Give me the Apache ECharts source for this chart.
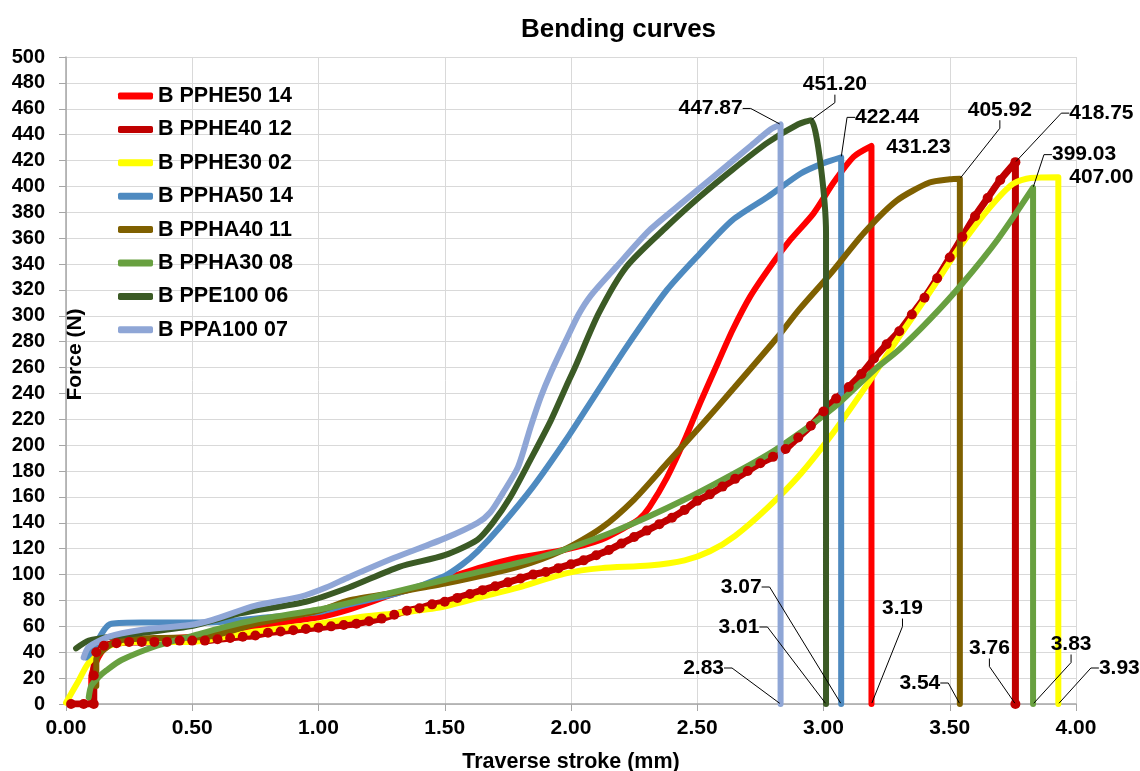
<!DOCTYPE html>
<html>
<head>
<meta charset="utf-8">
<title>Bending curves</title>
<script src="https://cdn.jsdelivr.net/npm/echarts@6/dist/echarts.min.js"></script>
<style>
  html, body { margin: 0; padding: 0; background: #ffffff; }
  #chart { width: 1140px; height: 771px; }
</style>
</head>
<body>
<div id="chart"></div>
<script>
// Force (N) against traverse stroke (mm) for each bending specimen: [stroke, force]
const pphe50_14 = [[0.02,0],[0.10,0],[0.10,20],[0.14,40],[0.20,49],[0.30,50],[0.50,52],[0.75,60],[1.00,67],[1.12,73],[1.30,85],[1.49,96],[1.65,106],[1.79,113],[1.97,119],[2.12,127],[2.22,137],[2.27,143],[2.31,152],[2.38,175],[2.45,204],[2.51,232],[2.58,263],[2.64,289],[2.71,315],[2.80,341],[2.87,359],[2.96,379],[3.04,403],[3.12,423],[3.19,431.23],[3.19,0]];

const pphe40_12 = [[0.02,0],[0.07,0],[0.11,0],[0.11,22],[0.12,40],[0.15,45],[0.20,47],[0.25,48],[0.30,48],[0.35,48],[0.40,48],[0.45,49],[0.50,49],[0.55,49],[0.60,50],[0.65,51],[0.70,52],[0.75,53],[0.80,55],[0.85,56],[0.90,57],[0.95,58],[1.00,59],[1.05,60],[1.10,61],[1.15,62],[1.20,64],[1.25,66],[1.30,69],[1.35,72],[1.40,74],[1.45,77],[1.50,79],[1.55,82],[1.60,85],[1.65,88],[1.70,91],[1.75,94],[1.80,97],[1.85,100],[1.90,102],[1.95,105],[2.00,108],[2.05,111],[2.10,115],[2.15,119],[2.20,124],[2.25,129],[2.30,134],[2.35,139],[2.40,144],[2.45,150],[2.50,157],[2.55,162],[2.60,168],[2.65,174],[2.70,180],[2.75,186],[2.80,191],[2.85,197],[2.90,206],[2.95,215],[3.00,226],[3.05,236],[3.10,245],[3.15,255],[3.20,267],[3.25,278],[3.30,288],[3.35,301],[3.40,314],[3.45,329],[3.50,345],[3.55,361],[3.60,377],[3.65,391],[3.70,405],[3.76,418.75],[3.76,0]];

const pphe30_02 = [[0.00,1],[0.05,18],[0.09,32],[0.16,44],[0.25,48],[0.49,48],[0.75,56],[1.00,62],[1.16,67],[1.30,70],[1.49,75],[1.65,83],[1.79,90],[1.98,101],[2.12,105],[2.31,107],[2.45,111],[2.55,118],[2.65,130],[2.78,152],[2.91,178],[3.04,210],[3.17,246],[3.30,284],[3.42,318],[3.55,356],[3.66,384],[3.75,402],[3.82,406.5],[3.93,407.00],[3.93,0]];

const ppha50_14 = [[0.08,36],[0.10,40],[0.15,57],[0.18,62],[0.30,63],[0.56,63],[0.80,67],[1.00,71],[1.12,77],[1.32,86],[1.50,99],[1.57,108],[1.63,118],[1.72,137],[1.85,168],[1.98,204],[2.09,237],[2.22,276],[2.38,320],[2.51,348],[2.64,374],[2.78,392],[2.91,410],[3.00,418],[3.07,422.44],[3.07,0]];

const ppha40_11 = [[0.12,14],[0.12,35],[0.15,42],[0.21,49],[0.35,51],[0.56,52],[0.75,62],[1.00,72],[1.12,80],[1.30,86],[1.50,93],[1.79,106],[1.97,119],[2.12,136],[2.25,158],[2.38,186],[2.51,214],[2.64,243],[2.82,284],[2.90,304],[3.03,333],[3.16,364],[3.29,389],[3.42,403],[3.50,405.5],[3.54,405.92],[3.54,0]];

const ppha30_08 = [[0.09,5],[0.10,14],[0.13,21],[0.16,26],[0.22,34],[0.36,45],[0.49,52],[0.62,59],[0.75,65],[1.00,73],[1.16,80],[1.50,96],[1.79,109],[1.97,119],[2.18,134],[2.45,158],[2.71,185],[2.83,199],[3.04,229],[3.20,258],[3.30,274],[3.42,297],[3.55,325],[3.69,359],[3.83,399.03],[3.83,0]];

const ppe100_06 = [[0.04,43],[0.09,49],[0.22,53],[0.49,60],[0.69,70],[0.95,79],[1.12,90],[1.32,106],[1.50,115],[1.63,127],[1.69,140],[1.76,160],[1.84,189],[1.92,219],[1.98,245],[2.02,262],[2.11,302],[2.22,338],[2.38,369],[2.51,392],[2.64,413],[2.78,434],[2.90,448],[2.95,451.20],[3.01,364],[3.01,0]];

const ppa100_07 = [[0.07,36],[0.09,44],[0.17,52],[0.29,57],[0.49,61],[0.58,65],[0.75,76],[0.93,83],[1.03,90],[1.12,98],[1.30,113],[1.50,128],[1.63,140],[1.68,148],[1.73,163],[1.79,183],[1.84,214],[1.88,237],[1.92,256],[1.98,281],[2.03,301],[2.08,316],[2.18,338],[2.31,366],[2.45,389],[2.58,410],[2.71,431],[2.79,444],[2.83,447.87],[2.83,0]];

const seriesNames = ['B PPHE50 14','B PPHE40 12','B PPHE30 02','B PPHA50 14','B PPHA40 11','B PPHA30 08','B PPE100 06','B PPA100 07'];
const seriesData = [pphe50_14, pphe40_12, pphe30_02, ppha50_14, ppha40_11, ppha30_08, ppe100_06, ppa100_07];
const seriesColors = ['#FF0000','#C00000','#FFFF00','#4E8AC0','#7F6000','#68A040','#3B5A25','#8FA6D6'];

const xTicks = { min: 0, max: 4, step: 0.5 };
const yTicks = { min: 0, max: 500, step: 20 };

// Where each peak / failure-stroke label sits, relative to its point (px)
const peakLabelShift = [[47,1],[86,-49],[43,0],[46,-40],[40,-69],[51,-33],[24,-36],[-70,-16]];
const peakLabelLine  = [false,true,false,true,true,true,true,true];
const breakLabelShift = [[31,-96],[-26,-56],[61,-36],[-100,-117],[-40,-21],[38,-60],[-87,-77],[-77,-36]];

const FONT = "'Liberation Sans', Arial, sans-serif";

const peakItems = seriesData.map((d, i) => {
  let peak = d[0];
  d.forEach(p => { if (p[1] >= peak[1]) peak = p; });
  return { value: peak, labelLine: { show: peakLabelLine[i] } };
});
const breakItems = seriesData.map(d => ({ value: d[d.length - 1] }));

const lineSeries = seriesNames.map((name, i) => {
  const marked = name === 'B PPHE40 12';
  return {
    name: name,
    type: 'line',
    data: seriesData[i],
    color: seriesColors[i],
    smooth: 0.25,
    symbol: marked ? 'circle' : 'none',
    symbolSize: marked ? 10 : 0,
    showSymbol: marked,
    lineStyle: { width: marked ? 7 : 6, color: seriesColors[i], cap: 'round', join: 'round' },
    itemStyle: { color: seriesColors[i], opacity: 1 },
    silent: true,
    emphasis: { disabled: true },
    z: 2
  };
});

const labelText = { color: '#000', opacity: 1, fontFamily: FONT, fontWeight: 'bold', fontSize: 21,
  textBorderWidth: 0, textBorderColor: 'transparent' };
const guide = { show: true, length2: 8, lineStyle: { color: '#000', width: 1, opacity: 1 } };

const annotationSeries = ['peaks', 'breaks'].map(kind => ({
  name: kind,
  type: 'scatter',
  data: kind === 'peaks' ? peakItems : breakItems,
  symbolSize: 2,
  itemStyle: { color: 'rgba(0,0,0,0)', opacity: 1 },
  silent: true,
  z: 5,
  label: Object.assign({ show: true, position: 'inside',
    formatter: p => (kind === 'peaks' ? p.value[1] : p.value[0]).toFixed(2) }, labelText),
  labelLine: guide,
  labelLayout: p => {
    const s = (kind === 'peaks' ? peakLabelShift : breakLabelShift)[p.dataIndex];
    return { dx: s[0], dy: s[1] };
  }
}));

const chart = echarts.init(document.getElementById('chart'), null, { renderer: 'canvas' });
chart.setOption({
  animation: false,
  backgroundColor: '#ffffff',
  textStyle: { fontFamily: FONT },
  title: {
    text: 'Bending curves',
    left: 516,
    top: 12,
    textStyle: { fontFamily: FONT, fontWeight: 'bold', fontSize: 26, color: '#000' }
  },
  grid: { left: 66, top: 57, width: 1010, height: 647, containLabel: false, outerBoundsMode: 'none' },
  legend: {
    data: seriesNames,
    orient: 'vertical',
    left: 113,
    top: 80,
    itemGap: 11.4,
    icon: 'roundRect',
    itemWidth: 35,
    itemHeight: 7,
    textStyle: { fontFamily: FONT, fontWeight: 'bold', fontSize: 21.5, color: '#000' },
    selectedMode: false
  },
  xAxis: {
    type: 'value',
    min: xTicks.min,
    max: xTicks.max,
    interval: xTicks.step,
    name: 'Traverse stroke (mm)',
    nameLocation: 'middle',
    nameGap: 47,
    nameTextStyle: { fontFamily: FONT, fontWeight: 'bold', fontSize: 21.5, color: '#000' },
    axisLine: { lineStyle: { color: '#A6A6A6', width: 1.5 } },
    axisTick: { show: true, length: 7, lineStyle: { color: '#A6A6A6' } },
    axisLabel: { margin: 14, fontFamily: FONT, fontWeight: 'bold', fontSize: 21, color: '#000',
      formatter: v => v.toFixed(2) },
    splitLine: { show: true, lineStyle: { color: '#D9D9D9', width: 1 } }
  },
  yAxis: {
    type: 'value',
    min: yTicks.min,
    max: yTicks.max,
    interval: yTicks.step,
    name: 'Force (N)',
    nameLocation: 'middle',
    nameRotate: 90,
    nameGap: -20,
    nameMoveOverlap: false,
    nameTextStyle: { fontFamily: FONT, fontWeight: 'bold', fontSize: 21, color: '#000', padding: [0, 0, 0, 52] },
    axisLine: { show: true, lineStyle: { color: '#A6A6A6', width: 1.5 } },
    axisTick: { show: true, length: 7, lineStyle: { color: '#A6A6A6' } },
    axisLabel: { margin: 21, fontFamily: FONT, fontWeight: 'bold', fontSize: 20, color: '#000' },
    splitLine: { show: true, lineStyle: { color: '#D9D9D9', width: 1 } }
  },
  series: lineSeries.concat(annotationSeries)
});
</script>
</body>
</html>
